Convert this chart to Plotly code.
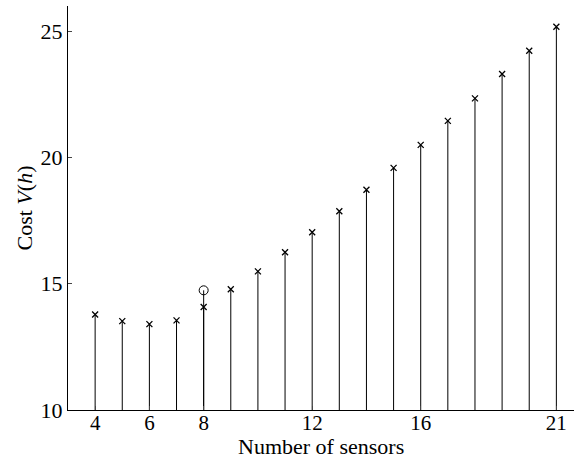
import plotly.graph_objects as go

sensors = [4, 5, 6, 7, 8, 9, 10, 11, 12, 13, 14, 15, 16, 17, 18, 19, 20, 21]
cost = [13.78, 13.52, 13.40, 13.55, 14.08, 14.78, 15.49, 16.25, 17.04, 17.87,
        18.72, 19.59, 20.50, 21.45, 22.34, 23.31, 24.23, 25.18]
opt_sensors = [8]
opt_cost = [14.74]
baseline = 10

x_ticks = [4, 6, 8, 12, 16, 21]
y_ticks = [10, 15, 20, 25]

stem_x, stem_y = [], []
for xv, yv in zip(sensors, cost):
    stem_x += [xv, xv, None]
    stem_y += [baseline, yv, None]
for xv, yv in zip(opt_sensors, opt_cost):
    stem_x += [xv, xv, None]
    stem_y += [baseline, yv, None]

font = "Liberation Serif"
fig = go.Figure()
fig.add_trace(go.Scatter(x=stem_x, y=stem_y, mode="lines",
                         line=dict(color="black", width=1), hoverinfo="skip"))
fig.add_trace(go.Scatter(x=sensors, y=cost, mode="markers",
                         marker=dict(symbol="x-thin", size=6, color="black",
                                     line=dict(color="black", width=1.3))))
fig.add_trace(go.Scatter(x=opt_sensors, y=opt_cost, mode="markers",
                         marker=dict(symbol="circle-open", size=9, color="black",
                                     line=dict(color="black", width=1))))

fig.update_layout(
    width=574, height=458,
    margin=dict(l=68, r=0, t=6, b=48),
    paper_bgcolor="white", plot_bgcolor="white",
    showlegend=False,
    font=dict(family=font, size=22, color="black"),
    xaxis=dict(range=[3, 21.65], tickvals=x_ticks, ticks="inside", ticklen=4,
               showline=True, linecolor="black", linewidth=1, showgrid=False,
               zeroline=False, tickfont=dict(size=21), automargin=False,
               ticklabelstandoff=-6),
    yaxis=dict(range=[10, 26], tickvals=y_ticks, ticks="inside", ticklen=4,
               showline=True, linecolor="black", linewidth=1, showgrid=False,
               zeroline=False, tickfont=dict(size=22), automargin=False),
    annotations=[
        dict(text="Number of sensors", xref="paper", yref="paper", x=0.5, y=0,
             xanchor="center", yanchor="top", yshift=-22, showarrow=False,
             font=dict(size=22)),
        dict(text="Cost <i>V</i>(<i>h</i>)", xref="paper", yref="paper", x=0, y=0.5,
             xanchor="right", yanchor="middle", xshift=-30, textangle=-90,
             showarrow=False, font=dict(size=22)),
    ],
)

fig.write_html("out.html", config={"displayModeBar": False},
               post_script="document.body.style.margin='0';")
